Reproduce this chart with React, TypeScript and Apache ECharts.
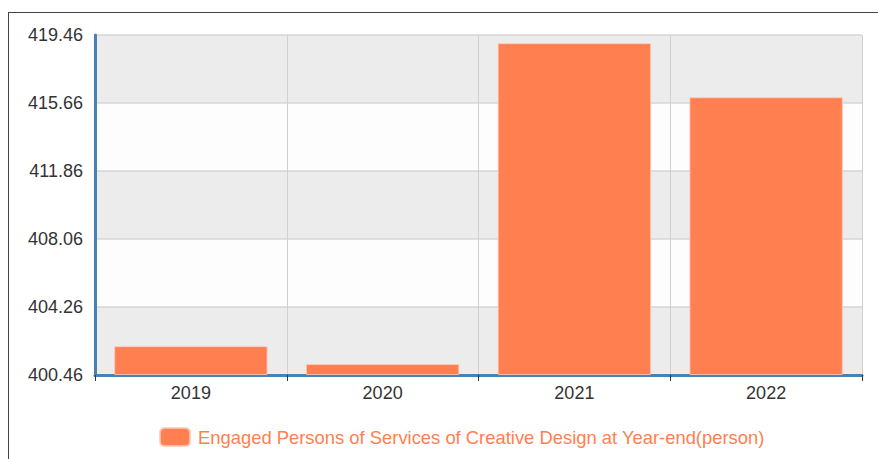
import React, { useEffect, useRef } from "react";
import * as echarts from "echarts";

const categories: string[] = ["2019", "2020", "2021", "2022"];
const seriesName = "Engaged Persons of Services of Creative Design at Year-end(person)";
const values: number[] = [402.07, 401.07, 419.0, 415.98];
const axisMin = 400.46;
const axisMax = 419.46;
const axisStep = 3.8;

export default function App() {
  const ref = useRef<HTMLDivElement>(null);
  useEffect(() => {
    document.body.style.overflow = "hidden";
    const chart = echarts.init(ref.current!, undefined, { renderer: "svg" });
    const font = "Arial, 'Liberation Sans', sans-serif";
    chart.setOption({
      animation: false,
      textStyle: { fontFamily: font },
      grid: { left: 86, top: 22, width: 767, height: 340, containLabel: false },
      legend: {
        top: 409,
        left: 145,
        itemWidth: 30,
        itemHeight: 18,
        itemGap: 10,
        icon: "roundRect",
        textStyle: { color: "#ff7f50", fontSize: 18.4, fontFamily: font, padding: [0, 0, 0, 3] },
        data: [seriesName],
      },
      xAxis: {
        type: "category",
        data: categories,
        axisLine: { show: true, lineStyle: { color: "#4682b4", width: 3 } },
        axisTick: { show: true, length: 6, lineStyle: { color: "#333", width: 1 } },
        axisLabel: { color: "#333", fontSize: 18, margin: 9, fontFamily: font },
        splitLine: { show: true, lineStyle: { color: "#d0d0d0", width: 1 } },
      },
      yAxis: {
        type: "value",
        min: 0,
        max: axisMax - axisMin,
        interval: axisStep,
        axisLine: { show: true, lineStyle: { color: "#4682b4", width: 3 } },
        axisTick: { show: false },
        axisLabel: {
          color: "#333",
          fontSize: 18,
          margin: 12,
          fontFamily: font,
          formatter: (v: number) => (v + axisMin).toFixed(2),
        },
        splitLine: { show: true, lineStyle: { color: "#d6d6d6", width: 1.5 } },
        splitArea: { show: true, areaStyle: { color: ["#ececec", "#fdfdfd"] } },
      },
      series: [
        {
          name: seriesName,
          type: "bar",
          barCategoryGap: "20%",
          data: values.map((v) => +(v - axisMin).toFixed(4)),
          itemStyle: { color: "#ff7f50", borderColor: "rgba(255,200,180,0.8)", borderWidth: 1 },
        },
      ],
    });
    return () => chart.dispose();
  }, []);
  return (
    <div
      style={{
        position: "absolute",
        left: 8,
        top: 12,
        width: 900,
        height: 460,
        borderLeft: "1px solid #444",
        borderTop: "1px solid #444",
      }}
    >
      <div ref={ref} style={{ width: 870, height: 446 }} />
    </div>
  );
}
